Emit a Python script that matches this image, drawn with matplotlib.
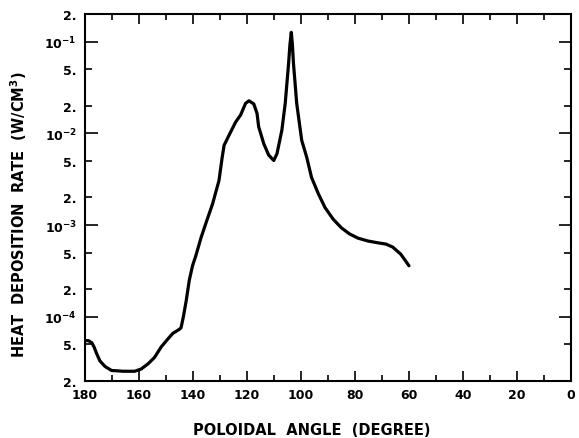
import matplotlib
matplotlib.use("Agg")
import matplotlib.pyplot as plt
from matplotlib.ticker import FixedLocator, NullFormatter

angle = [180.0, 178.8, 177.5, 176.7, 175.7, 174.5, 172.6, 170.2, 165.9, 161.6,
         159.2, 156.7, 154.3, 151.8, 149.4, 147.5, 145.1, 144.45, 143.6, 142.6,
         141.4, 140.2, 139.0, 137.1, 135.0, 132.8, 130.4, 129.2, 128.5, 126.7,
         124.2, 122.4, 120.55, 119.3, 117.5, 116.3, 115.7, 113.8, 112.0, 110.1,
         108.9, 107.1, 105.85, 104.6, 104.1, 103.6, 103.2, 102.8, 101.6, 99.75,
         97.9, 96.1, 93.6, 91.1, 88.1, 85.0, 82.0, 78.9, 75.2, 71.5,
         68.5, 66.0, 63.0, 60.0]
rate = [5.5e-5, 5.5e-5, 5.2e-5, 4.7e-5, 3.95e-5, 3.3e-5, 2.87e-5, 2.6e-5, 2.55e-5, 2.55e-5,
        2.7e-5, 3.07e-5, 3.6e-5, 4.7e-5, 5.7e-5, 6.6e-5, 7.3e-5, 7.6e-5, 1.0e-4, 1.46e-4,
        2.5e-4, 3.6e-4, 4.6e-4, 7.2e-4, 1.1e-3, 1.69e-3, 3.05e-3, 5.5e-3, 7.4e-3, 9.5e-3,
        1.33e-2, 1.58e-2, 2.12e-2, 2.26e-2, 2.09e-2, 1.65e-2, 1.18e-2, 7.7e-3, 5.8e-3, 5.05e-3,
        6.0e-3, 1.08e-2, 2.12e-2, 5.8e-2, 9.3e-2, 1.26e-1, 9.3e-2, 5.8e-2, 2.12e-2, 8.4e-3,
        5.5e-3, 3.3e-3, 2.2e-3, 1.55e-3, 1.16e-3, 9.3e-4, 8.0e-4, 7.2e-4, 6.7e-4, 6.4e-4,
        6.2e-4, 5.75e-4, 4.8e-4, 3.6e-4]

x_major = [180, 160, 140, 120, 100, 80, 60, 40, 20, 0]
x_minor = [170, 150, 130, 110, 90, 70, 50, 30, 10]
y_label_vals = [2e-1, 1e-1, 5e-2, 2e-2, 1e-2, 5e-3, 2e-3, 1e-3, 5e-4, 2e-4, 1e-4, 5e-5, 2e-5]
y_label_txt = ["2.", r"$\mathbf{10^{-1}}$", "5.", "2.", r"$\mathbf{10^{-2}}$", "5.", "2.",
               r"$\mathbf{10^{-3}}$", "5.", "2.", r"$\mathbf{10^{-4}}$", "5.", "2."]
y_decades = [1e-1, 1e-2, 1e-3, 1e-4]
x_title = "POLOIDAL  ANGLE  (DEGREE)"
y_title = "HEAT  DEPOSITION  RATE  (W/CM$^\\mathbf{3}$)"

fig = plt.figure(figsize=(5.79, 4.39), dpi=100)
ax = fig.add_axes([0.147, 0.130, 0.839, 0.836])
ax.plot(angle, rate, color="black", lw=2.3, solid_joinstyle="round", solid_capstyle="round")
ax.set_yscale("log")
ax.set_xlim(180, 0)
ax.set_ylim(2e-5, 2e-1)

ax.xaxis.set_major_locator(FixedLocator(x_major))
ax.xaxis.set_minor_locator(FixedLocator(x_minor))
ax.set_xticklabels([str(v) for v in x_major], fontsize=9, fontweight="bold")
ax.xaxis.set_minor_formatter(NullFormatter())

ax.yaxis.set_major_locator(FixedLocator(y_label_vals))
ax.set_yticklabels(y_label_txt, fontsize=9, fontweight="bold")
ax.yaxis.set_minor_locator(FixedLocator([]))

ax.tick_params(axis="both", which="both", direction="in", top=True, right=True, width=1.2)
ax.tick_params(axis="x", which="major", length=7, pad=5)
ax.tick_params(axis="x", which="minor", length=4)
ax.tick_params(axis="y", which="major", length=5, pad=6)
for t, v in zip(ax.yaxis.get_major_ticks(), y_label_vals):
    if any(abs(v - d) / d < 1e-6 for d in y_decades):
        t.tick1line.set_markersize(9)
        t.tick2line.set_markersize(9)

for s in ax.spines.values():
    s.set_linewidth(1.5)

ax.set_xlabel(x_title, fontsize=10.5, fontweight="bold")
ax.xaxis.set_label_coords(0.467, -0.112)
ax.set_ylabel(y_title, fontsize=10.5, fontweight="bold")
ax.yaxis.set_label_coords(-0.115, 0.455)

fig.savefig("out.png", dpi=100)
